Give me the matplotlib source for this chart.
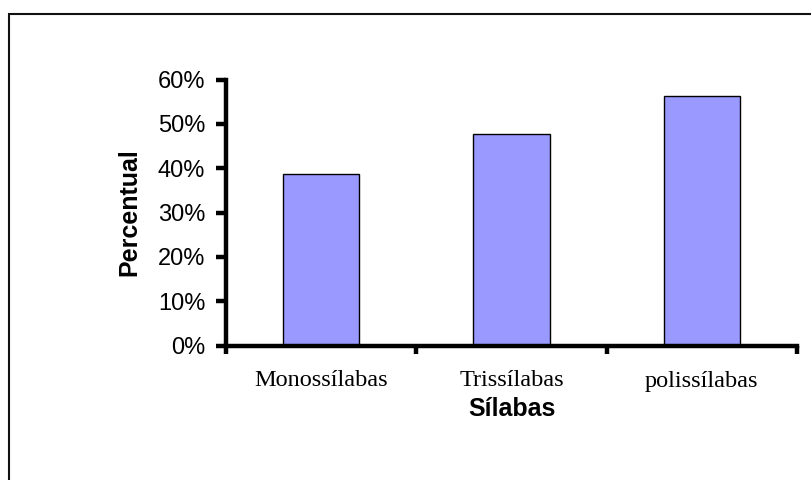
import matplotlib
matplotlib.use("Agg")
import matplotlib.pyplot as plt
from matplotlib.patches import Rectangle
from matplotlib.ticker import PercentFormatter, FixedLocator

# data
categories = ["Monossílabas", "Trissílabas", "polissílabas"]
percentual = [0.387, 0.478, 0.563]
y_ticks = [0.0, 0.1, 0.2, 0.3, 0.4, 0.5, 0.6]

BAR_COLOR = "#9999FF"
AXIS_LW = 3.2

fig = plt.figure(figsize=(8.11, 4.80), dpi=100)
ax = fig.add_axes([226 / 811, 1 - 345.5 / 480, (797 - 226) / 811, (345.5 - 79.5) / 480])

x = list(range(len(categories)))
ax.bar(x, percentual, width=0.4, color=BAR_COLOR, edgecolor="black", linewidth=1.0, zorder=2)

ax.set_xlim(-0.5, len(categories) - 0.5)
ax.set_ylim(0, 0.6)

# spines
for side in ("top", "right"):
    ax.spines[side].set_visible(False)
for side in ("left", "bottom"):
    ax.spines[side].set_linewidth(AXIS_LW)
    ax.spines[side].set_capstyle("projecting")
    ax.spines[side].set_zorder(3)

# y axis
ax.set_yticks(y_ticks)
ax.yaxis.set_major_formatter(PercentFormatter(1.0, decimals=0))
ax.tick_params(axis="y", direction="out", length=7, width=AXIS_LW, pad=8,
               labelsize=17)
for lab in ax.get_yticklabels():
    lab.set_fontfamily("Liberation Sans")

# x axis: labels at centers, tick marks at category boundaries
ax.set_xticks(x)
ax.set_xticklabels(categories, fontfamily="Liberation Serif", fontsize=17.5)
ax.tick_params(axis="x", which="major", length=0, pad=18)
ax.xaxis.set_minor_locator(FixedLocator([i - 0.5 for i in range(len(categories) + 1)]))
ax.tick_params(axis="x", which="minor", direction="out", length=5.5, width=AXIS_LW)

ax.set_xlabel("Sílabas", fontfamily="Liberation Sans", fontweight="bold",
              fontsize=18, labelpad=4)
ax.set_ylabel("Percentual", fontfamily="Liberation Sans", fontweight="bold",
              fontsize=18, labelpad=12)

# outer frame of the chart area (runs off the right and bottom edges)
fig.add_artist(Rectangle((9 / 811, -0.1), 1.2, 1.1 - 14 / 480, transform=fig.transFigure,
                         fill=False, edgecolor="#111111", linewidth=1.5))

fig.savefig("out.png", dpi=100)
